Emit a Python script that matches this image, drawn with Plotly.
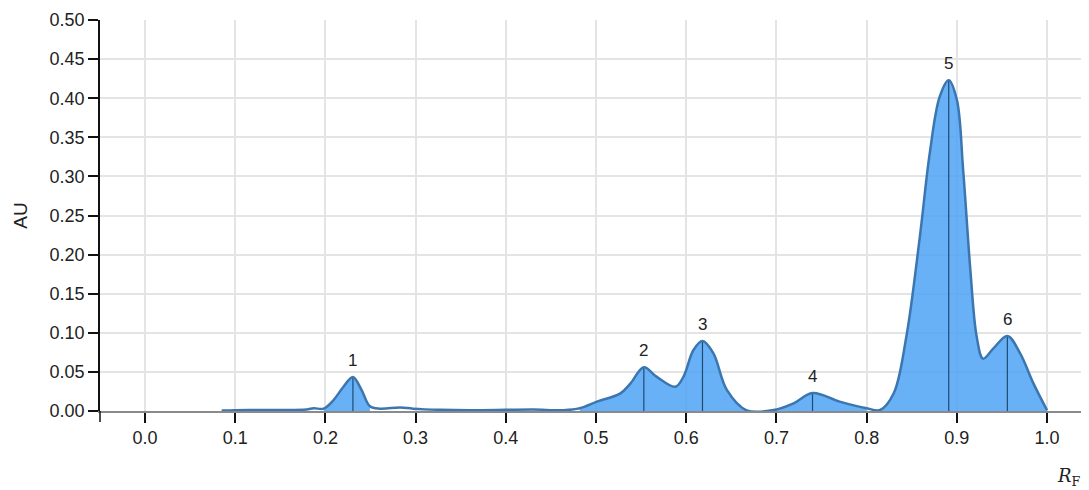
import plotly.graph_objects as go

# ---- data ----
rf = [0.085, 0.10, 0.12, 0.15, 0.179, 0.187, 0.198, 0.209, 0.220, 0.2305, 0.240, 0.2494,
      0.2605, 0.283, 0.297, 0.327, 0.36, 0.40, 0.43, 0.464, 0.482, 0.501, 0.527, 0.538,
      0.553, 0.567, 0.588, 0.597, 0.608, 0.618, 0.630, 0.645, 0.667, 0.697, 0.719, 0.740,
      0.770, 0.800, 0.815, 0.830, 0.844, 0.859, 0.870, 0.881, 0.891, 0.900, 0.907, 0.915,
      0.922, 0.929, 0.9405, 0.956, 0.970, 0.985, 1.0]
au = [0.0005, 0.001, 0.0012, 0.0013, 0.002, 0.0035, 0.003, 0.014, 0.031, 0.0435, 0.027, 0.006,
      0.003, 0.0045, 0.003, 0.0015, 0.001, 0.0015, 0.002, 0.001, 0.0035, 0.012, 0.0226, 0.035,
      0.056, 0.044, 0.031, 0.044, 0.078, 0.0895, 0.074, 0.027, 0.0008, 0.0013, 0.0098, 0.023,
      0.012, 0.0035, 0.0013, 0.0226, 0.095, 0.223, 0.33, 0.402, 0.423, 0.398, 0.308, 0.18,
      0.095, 0.067, 0.080, 0.096, 0.074, 0.035, 0.001]

peak_labels = ["1", "2", "3", "4", "5", "6"]
peak_rf = [0.2305, 0.553, 0.618, 0.740, 0.891, 0.956]
peak_au = [0.0435, 0.056, 0.0895, 0.023, 0.423, 0.096]

fill_start = [0.198, 0.482, 0.815]
fill_end = [0.2494, 0.800, 1.0]

y_ticks = [0.00, 0.05, 0.10, 0.15, 0.20, 0.25, 0.30, 0.35, 0.40, 0.45, 0.50]
x_ticks = [0.0, 0.1, 0.2, 0.3, 0.4, 0.5, 0.6, 0.7, 0.8, 0.9, 1.0]

LINE_COL = "#3b76b0"
FILL_COL = "rgba(77,163,245,0.85)"
PEAK_COL = "#1f4a75"
TXT = "#222222"
FONT = "Liberation Sans, Arial, sans-serif"

fig = go.Figure()

# filled integration regions
for s, e in zip(fill_start, fill_end):
    xs = [x for x in rf if s <= x <= e]
    ys = [y for x, y in zip(rf, au) if s <= x <= e]
    fig.add_trace(go.Scatter(x=xs, y=ys, mode="lines", line=dict(width=0, shape="spline", color=LINE_COL),
                             fill="tozeroy", fillcolor=FILL_COL, hoverinfo="skip", showlegend=False))

# peak markers (vertical lines)
px, py = [], []
for x, y in zip(peak_rf, peak_au):
    px += [x, x, None]
    py += [0, y, None]
fig.add_trace(go.Scatter(x=px, y=py, mode="lines", line=dict(color=PEAK_COL, width=1.2),
                         hoverinfo="skip", showlegend=False))

# densitogram curve
fig.add_trace(go.Scatter(x=rf, y=au, mode="lines", line=dict(color=LINE_COL, width=2.5, shape="spline"),
                         showlegend=False))

for lab, x, y in zip(peak_labels, peak_rf, peak_au):
    fig.add_annotation(x=x, y=y, text=lab, showarrow=False, yanchor="bottom", yshift=5,
                       font=dict(size=17, color=TXT, family=FONT))

fig.add_annotation(xref="paper", yref="paper", x=1.0, y=-0.17, xanchor="right", yanchor="middle",
                   text="<i>R</i><sub>F</sub>", showarrow=False, xshift=-6,
                   font=dict(size=18, color=TXT, family="DejaVu Serif, Liberation Serif, serif"))

# small tick continuing the y axis below the x axis (as in the reference)
fig.add_shape(type="line", xref="paper", yref="paper", x0=0, x1=0, y0=0, y1=-0.028,
              line=dict(color="#111111", width=1.5))

# the page body has an 8px margin; compensate so the plot sits where it does in the reference
fig.update_layout(
    width=1081, height=482,
    margin=dict(l=92, r=0, t=12, b=79),
    plot_bgcolor="white", paper_bgcolor="white",
    font=dict(family=FONT, size=16, color=TXT),
)
fig.update_xaxes(range=[-0.0499, 1.0465], tickvals=x_ticks, ticktext=[f"{v:.1f}" for v in x_ticks],
                 showgrid=True, gridcolor="#e4e4e4", gridwidth=1.5,
                 showline=True, linecolor="#8a8a8a", linewidth=1.5,
                 ticks="outside", ticklen=10, tickwidth=1.5, tickcolor="#111111",
                 zeroline=False, tickfont=dict(size=18, color=TXT))
fig.update_yaxes(range=[0, 0.5], tickvals=y_ticks, ticktext=[f"{v:.2f}" for v in y_ticks],
                 showgrid=True, gridcolor="#e4e4e4", gridwidth=1.5,
                 showline=True, linecolor="#111111", linewidth=1.5,
                 ticks="outside", ticklen=10, tickwidth=1.5, tickcolor="#111111",
                 zeroline=False, tickfont=dict(size=18, color=TXT),
                 title=dict(text="AU", font=dict(size=19, color=TXT), standoff=17))

fig.write_html("out.html")
